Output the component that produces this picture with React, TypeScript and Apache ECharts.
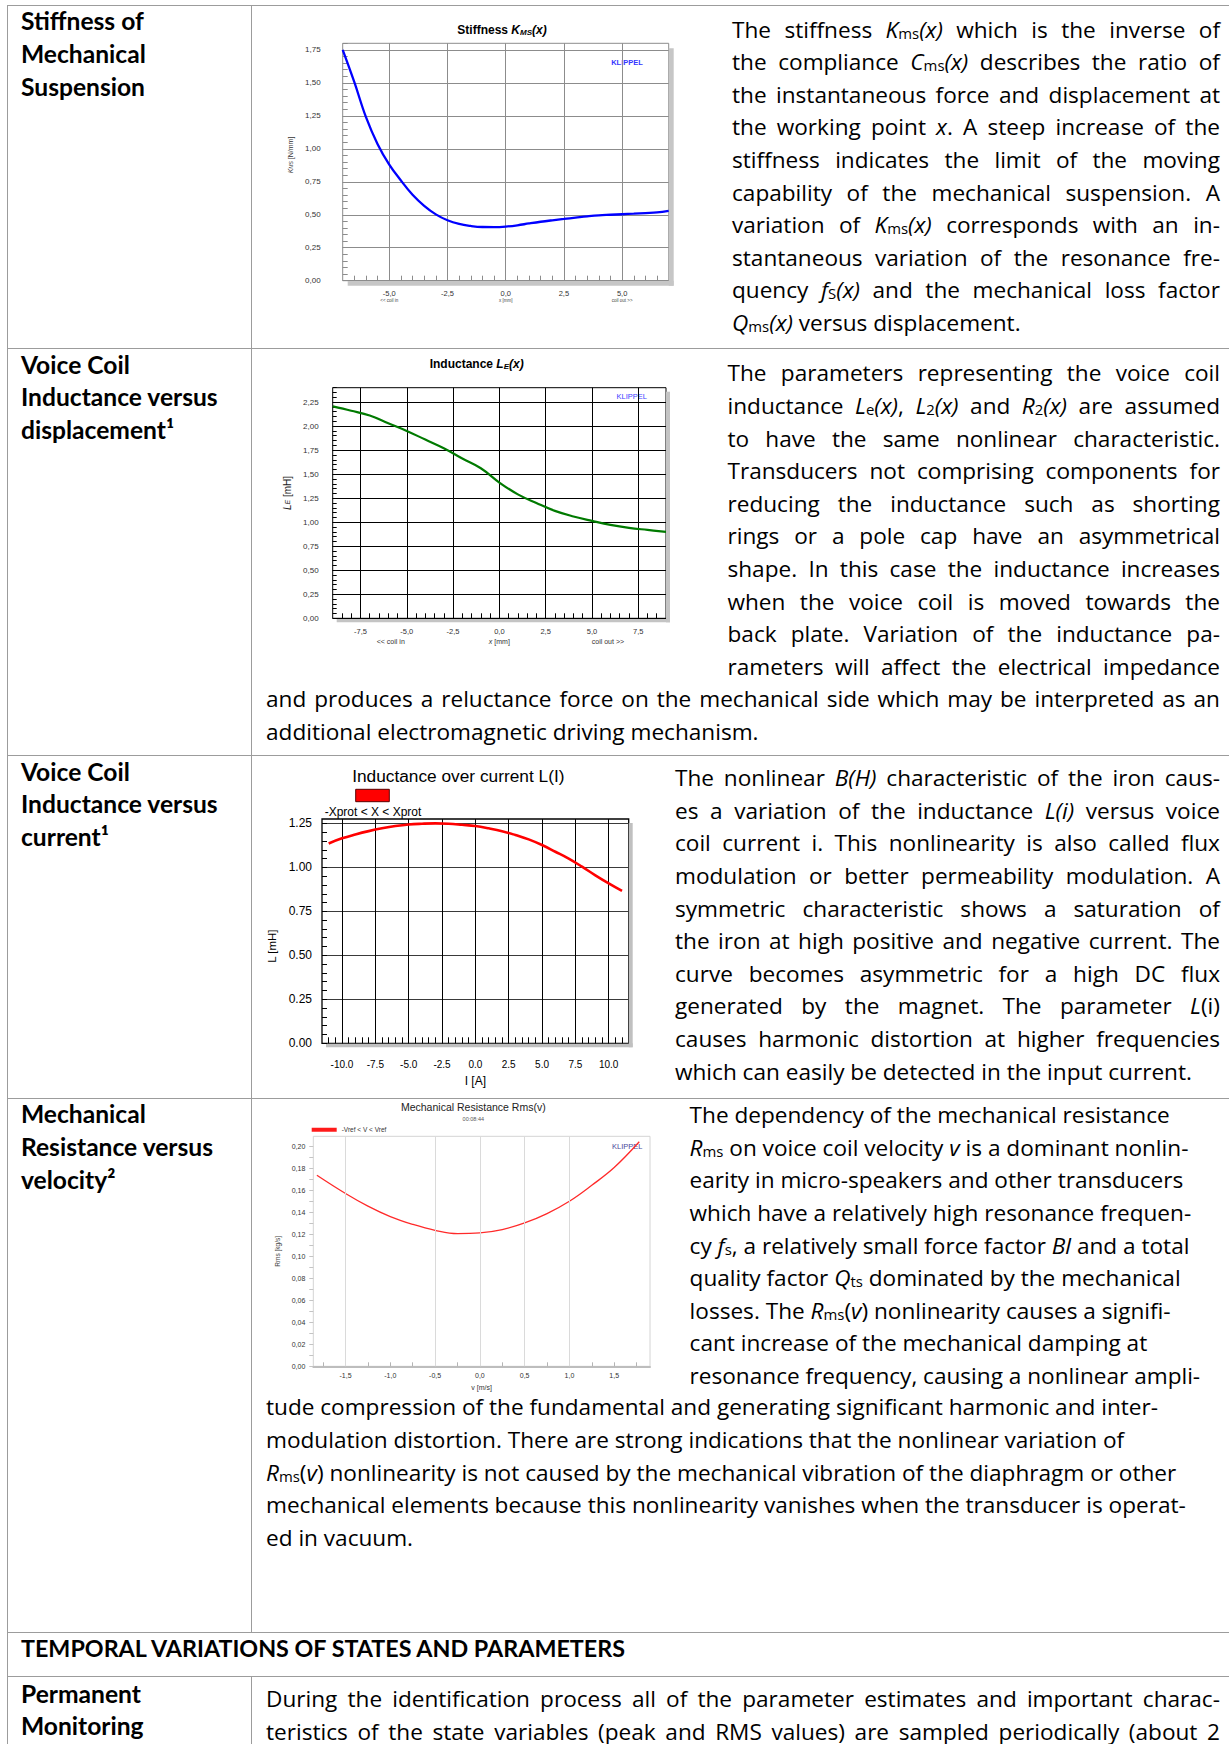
import React, { useEffect, useRef } from 'react';
import * as echarts from 'echarts';

const CF = "'Liberation Sans', Arial, Helvetica, sans-serif";
const TF = "'Open Sans', Lato, sans-serif";
const LF = "Lato, 'Open Sans', sans-serif";

// ---------- Stiffness Kms(x) ----------
const stiffnessX = [-7, -6.5, -6, -5.5, -5, -4.5, -4, -3.5, -3, -2.5, -2, -1.5, -1, -0.5, 0, 0.5, 1, 1.5, 2, 2.5, 3, 3.5, 4, 4.5, 5, 5.5, 6, 6.5, 7];
const stiffnessK = [1.75, 1.505, 1.24, 1.035, 0.88, 0.76, 0.652, 0.568, 0.503, 0.458, 0.43, 0.415, 0.407, 0.406, 0.41, 0.42, 0.434, 0.447, 0.458, 0.468, 0.478, 0.488, 0.496, 0.5, 0.504, 0.508, 0.513, 0.518, 0.53];
const stiffnessXTicks = [-5, -2.5, 0, 2.5, 5];
const stiffnessYTicks = [0, 0.25, 0.5, 0.75, 1, 1.25, 1.5, 1.75];

// ---------- Inductance Le(x) ----------
const inductanceX = [-9, -8, -7, -6, -5, -4, -3, -2, -1, 0, 1, 2, 3, 4, 5, 6, 7, 8, 9];
const inductanceLe = [2.205, 2.16, 2.11, 2.03, 1.95, 1.86, 1.77, 1.663, 1.562, 1.413, 1.29, 1.2, 1.118, 1.06, 1.014, 0.972, 0.941, 0.92, 0.9];
const inductanceXTicks = [-7.5, -5, -2.5, 0, 2.5, 5, 7.5];
const inductanceYTicks = [0, 0.25, 0.5, 0.75, 1, 1.25, 1.5, 1.75, 2, 2.25];

// ---------- Inductance over current L(I) ----------
const currentI = [-11, -10, -9, -8, -7, -6, -5, -4, -3, -2, -1, 0, 1, 2, 3, 4, 5, 6, 7, 8, 9, 10, 11];
const currentL = [1.136, 1.165, 1.187, 1.206, 1.222, 1.235, 1.244, 1.248, 1.25, 1.248, 1.242, 1.235, 1.222, 1.206, 1.184, 1.159, 1.127, 1.089, 1.05, 1.004, 0.955, 0.909, 0.866];
const currentXTicks = [-10, -7.5, -5, -2.5, 0, 2.5, 5, 7.5, 10];
const currentYTicks = [0, 0.25, 0.5, 0.75, 1, 1.25];

// ---------- Mechanical resistance Rms(v) ----------
const velocityV = [-1.82, -1.5, -1.25, -1, -0.75, -0.5, -0.25, 0, 0.25, 0.5, 0.75, 1, 1.25, 1.5, 1.78];
const resistanceRms = [0.1736, 0.157, 0.1455, 0.136, 0.129, 0.1236, 0.1206, 0.1212, 0.1242, 0.1303, 0.1388, 0.15, 0.1645, 0.1806, 0.204];
const velocityXTicks = [-1.5, -1, -0.5, 0, 0.5, 1, 1.5];
const velocityGridLines = [-1.5, -0.5, 0, 0.5, 1];
const resistanceYTicks = [0, 0.02, 0.04, 0.06, 0.08, 0.1, 0.12, 0.14, 0.16, 0.18, 0.2];

const coilSubLabels: Record<string, string> = { '-5': '<< coil in', '0': 'x [mm]', '5': 'coil out >>' };

const comma = (v: number, d: number) => v.toFixed(d).replace('.', ',');
const zip = (a: number[], b: number[]) => a.map((x, i) => [x, b[i]]);
const steps = (from: number, to: number, step: number) => {
  const out: number[] = [];
  const n = Math.round((to - from) / step);
  for (let i = 0; i <= n; i++) out.push(+(from + i * step).toFixed(6));
  return out;
};

const minorAxis = (dim: 'x' | 'y', min: number, max: number, values: number[], length: number, color: string, inside = true) => ({
  type: 'value',
  min,
  max,
  position: dim === 'x' ? 'bottom' : 'left',
  axisLine: { show: false, onZero: false },
  axisTick: { show: true, inside, length, customValues: values, lineStyle: { color, width: 1 } },
  axisLabel: { show: false },
  splitLine: { show: false },
});

const shadowRects = (g: any, d: number, color: string) => [
  { type: 'rect', silent: true, shape: { x: g.left + g.width, y: g.top + d, width: d, height: g.height }, style: { fill: color } },
  { type: 'rect', silent: true, shape: { x: g.left + d, y: g.top + g.height, width: g.width, height: d }, style: { fill: color } },
];

// ----- chart 1: stiffness -----
const G1 = { left: 72.7, top: 33.3, width: 326, height: 237.4 };
const option1 = {
  animation: false,
  textStyle: { fontFamily: CF },
  grid: { ...G1, show: true, backgroundColor: '#fff', borderColor: '#8c8c8c', borderWidth: 1, outerBoundsMode: 'none' },
  graphic: [
    ...shadowRects(G1, 5, '#c6c6c6'),
    {
      type: 'text', x: 232, y: 20,
      style: {
        text: '{a|Stiffness }{b|K}{c|MS}{b|(x)}', align: 'center', verticalAlign: 'middle', fill: '#000',
        rich: {
          a: { fontSize: 12, fontWeight: 'bold', fontFamily: CF },
          b: { fontSize: 12, fontWeight: 'bold', fontStyle: 'italic', fontFamily: CF },
          c: { fontSize: 8, fontWeight: 'bold', fontStyle: 'italic', fontFamily: CF, padding: [5, 0, 0, 0] },
        },
      },
    },
    { type: 'text', x: 357, y: 52, style: { text: 'KLIPPEL', align: 'center', verticalAlign: 'middle', fill: '#3535ff', font: `bold 7.5px ${CF}` } },
  ],
  xAxis: [
    {
      type: 'value', min: -7, max: 7,
      axisLine: { show: false, onZero: false },
      axisTick: { show: false, customValues: stiffnessXTicks },
      splitLine: { show: true, lineStyle: { color: '#8c8c8c', width: 1 } },
      axisLabel: {
        customValues: stiffnessXTicks, margin: 8,
        formatter: (v: number) => `{n|${comma(v, 1)}}\n{s|${coilSubLabels[String(v)] ?? ' '}}`,
        rich: {
          n: { fontSize: 7.5, color: '#333', fontFamily: CF, lineHeight: 9 },
          s: { fontSize: 4.5, color: '#444', fontFamily: CF, lineHeight: 6 },
        },
      },
    },
    minorAxis('x', -7, 7, steps(-6.5, 6.5, 0.5), 5, '#8c8c8c'),
  ],
  yAxis: [
    {
      type: 'value', min: 0, max: 1.8,
      axisLine: { show: false, onZero: false },
      axisTick: { show: false, customValues: stiffnessYTicks },
      splitLine: { show: true, lineStyle: { color: '#8c8c8c', width: 1 } },
      axisLabel: { customValues: stiffnessYTicks, margin: 22, fontSize: 8, color: '#333', formatter: (v: number) => comma(v, 2) },
      name: '{i|K}{s|MS}{n| [N/mm]}', nameLocation: 'middle', nameGap: 48, nameRotate: 90,
      nameTextStyle: {
        padding: [0, 0, 0, 14],
        rich: {
          i: { fontSize: 7, fontStyle: 'italic', color: '#333', fontFamily: CF },
          s: { fontSize: 5, fontStyle: 'italic', color: '#333', fontFamily: CF },
          n: { fontSize: 7, color: '#333', fontFamily: CF },
        },
      },
    },
    minorAxis('y', 0, 1.8, steps(0, 1.8, 0.05), 5, '#8c8c8c'),
  ],
  series: [
    { type: 'line', xAxisIndex: 0, yAxisIndex: 0, data: zip(stiffnessX, stiffnessK), smooth: 0.4, showSymbol: false, lineStyle: { color: '#0000ff', width: 2.3 } },
  ],
};

// ----- chart 2: inductance vs displacement -----
const G2 = { left: 62.7, top: 37.7, width: 333.3, height: 230.6 };
const coilRich = {
  n: { fontSize: 7.5, color: '#333', fontFamily: CF, lineHeight: 9 },
  l: { fontSize: 7, color: '#333', fontFamily: CF, lineHeight: 10, padding: [0, 32, 0, 0] },
  r: { fontSize: 7, color: '#333', fontFamily: CF, lineHeight: 10, padding: [0, 0, 0, 32] },
  xi: { fontSize: 7, fontStyle: 'italic', color: '#333', fontFamily: CF, lineHeight: 10 },
  s: { fontSize: 7, color: '#333', fontFamily: CF, lineHeight: 10 },
};
const coilLabel = (v: number) => {
  const n = `{n|${comma(v, 1)}}`;
  if (v === -5) return `${n}\n{l|${coilSubLabels['-5']}}`;
  if (v === 5) return `${n}\n{r|${coilSubLabels['5']}}`;
  if (v === 0) return `${n}\n{xi|x}{s| [mm]}`;
  return `${n}\n{s| }`;
};
const option2 = {
  animation: false,
  textStyle: { fontFamily: CF },
  grid: { ...G2, show: true, backgroundColor: '#fff', borderColor: '#000', borderWidth: 1, outerBoundsMode: 'none' },
  graphic: [
    ...shadowRects(G2, 4, '#c4c4c4'),
    {
      type: 'text', x: 206.7, y: 14,
      style: {
        text: '{a|Inductance }{b|L}{c|E}{b|(x)}', align: 'center', verticalAlign: 'middle', fill: '#000',
        rich: {
          a: { fontSize: 12, fontWeight: 'bold', fontFamily: CF },
          b: { fontSize: 12, fontWeight: 'bold', fontStyle: 'italic', fontFamily: CF },
          c: { fontSize: 8, fontWeight: 'bold', fontStyle: 'italic', fontFamily: CF, padding: [5, 0, 0, 0] },
        },
      },
    },
    { type: 'text', x: 361.7, y: 46, style: { text: 'KLIPPEL', align: 'center', verticalAlign: 'middle', fill: '#4040ff', font: `7.5px ${CF}` } },
  ],
  xAxis: [
    {
      type: 'value', min: -9, max: 9,
      axisLine: { show: false, onZero: false },
      axisTick: { show: false, customValues: inductanceXTicks },
      splitLine: { show: true, lineStyle: { color: '#000', width: 1 } },
      axisLabel: { customValues: inductanceXTicks, margin: 9, formatter: coilLabel, rich: coilRich },
    },
    minorAxis('x', -9, 9, steps(-8.5, 8.5, 0.5), 5, '#000'),
  ],
  yAxis: [
    {
      type: 'value', min: 0, max: 2.4,
      axisLine: { show: false, onZero: false },
      axisTick: { show: false, customValues: inductanceYTicks },
      splitLine: { show: true, lineStyle: { color: '#000', width: 1 } },
      axisLabel: { customValues: inductanceYTicks, margin: 14, fontSize: 8, color: '#333', formatter: (v: number) => comma(v, 2) },
      name: '{i|L}{s|E}{n| [mH]}', nameLocation: 'middle', nameGap: 40, nameRotate: 90,
      nameTextStyle: {
        padding: [0, 0, 0, 20],
        rich: {
          i: { fontSize: 10, fontStyle: 'italic', color: '#222', fontFamily: CF },
          s: { fontSize: 7, fontStyle: 'italic', color: '#222', fontFamily: CF },
          n: { fontSize: 10, color: '#222', fontFamily: CF },
        },
      },
    },
    minorAxis('y', 0, 2.4, steps(0, 2.4, 0.05), 4, '#000'),
  ],
  series: [
    { type: 'line', xAxisIndex: 0, yAxisIndex: 0, data: zip(inductanceX, inductanceLe), smooth: 0.4, showSymbol: false, lineStyle: { color: '#007a00', width: 2.2 } },
  ],
};

// ----- chart 3: inductance over current -----
const G3 = { left: 62, top: 64, width: 306.7, height: 224.3 };
const option3 = {
  animation: false,
  textStyle: { fontFamily: CF },
  grid: { ...G3, show: true, backgroundColor: '#fff', borderColor: '#000', borderWidth: 1.3, outerBoundsMode: 'none' },
  graphic: [
    ...shadowRects(G3, 4, '#c0c0c0'),
    { type: 'text', x: 198.3, y: 20.7, style: { text: 'Inductance over current L(I)', align: 'center', verticalAlign: 'middle', fill: '#000', font: `17.3px ${CF}` } },
    { type: 'rect', shape: { x: 95.7, y: 34.3, width: 33.6, height: 12.4 }, style: { fill: '#ff0000', stroke: '#5a0000', lineWidth: 1 } },
    { type: 'text', x: 113, y: 56.7, style: { text: '-Xprot < X < Xprot', align: 'center', verticalAlign: 'middle', fill: '#000', font: `12px ${CF}` } },
  ],
  xAxis: [
    {
      type: 'value', min: -11.5, max: 11.5,
      axisLine: { show: false, onZero: false },
      axisTick: { show: false, customValues: currentXTicks },
      splitLine: { show: true, lineStyle: { color: '#000', width: 1 } },
      axisLabel: { customValues: currentXTicks, margin: 16, fontSize: 10, color: '#000', formatter: (v: number) => v.toFixed(1) },
      name: 'I [A]', nameLocation: 'middle', nameGap: 32, nameTextStyle: { fontSize: 12, color: '#000' },
    },
    minorAxis('x', -11.5, 11.5, steps(-11, 11, 0.5), 6, '#000'),
  ],
  yAxis: [
    {
      type: 'value', min: 0, max: 1.275,
      axisLine: { show: false, onZero: false },
      axisTick: { show: false, customValues: currentYTicks },
      splitLine: { show: true, lineStyle: { color: '#3a3a3a', width: 1 } },
      axisLabel: { customValues: currentYTicks, margin: 10, fontSize: 12, color: '#000', formatter: (v: number) => v.toFixed(2) },
      name: 'L [mH]', nameLocation: 'middle', nameGap: 41, nameRotate: 90,
      nameTextStyle: { fontSize: 11.5, color: '#000', padding: [0, 30, 0, 0] },
    },
    minorAxis('y', 0, 1.275, steps(0, 1.25, 0.05), 5, '#000'),
  ],
  series: [
    { type: 'line', xAxisIndex: 0, yAxisIndex: 0, data: zip(currentI, currentL), smooth: 0.4, showSymbol: false, lineStyle: { color: '#ff0000', width: 2.6 } },
  ],
};

// ----- chart 4: mechanical resistance vs velocity -----
const G4 = { left: 43.3, top: 43.3, width: 336.7, height: 230 };
const option4 = {
  animation: false,
  textStyle: { fontFamily: CF },
  grid: { ...G4, show: true, backgroundColor: '#fff', borderColor: '#d4d4d4', borderWidth: 1, outerBoundsMode: 'none' },
  graphic: [
    { type: 'text', x: 203.3, y: 14, style: { text: 'Mechanical Resistance Rms(v)', align: 'center', verticalAlign: 'middle', fill: '#222', font: `10.5px ${CF}` } },
    { type: 'text', x: 203.3, y: 26, style: { text: '00:08:44', align: 'center', verticalAlign: 'middle', fill: '#555', font: `5.5px ${CF}` } },
    { type: 'rect', shape: { x: 41.7, y: 34.7, width: 25, height: 4 }, style: { fill: '#ff1a1a' } },
    { type: 'text', x: 71.7, y: 36.7, style: { text: '-Vref < V < Vref', align: 'left', verticalAlign: 'middle', fill: '#333', font: `6.5px ${CF}` } },
    { type: 'text', x: 357.3, y: 53.3, style: { text: 'KLIPPEL', align: 'center', verticalAlign: 'middle', fill: '#4a4a9a', font: `7.5px ${CF}` } },
  ],
  xAxis: [
    {
      type: 'value', min: -1.86, max: 1.9,
      axisLine: { show: true, onZero: false, lineStyle: { color: '#bdbdbd', width: 2 } },
      axisTick: { show: false, customValues: velocityXTicks },
      splitLine: { show: false },
      axisLabel: { customValues: velocityXTicks, margin: 6, fontSize: 7, color: '#333', formatter: (v: number) => comma(v, 1) },
      name: 'v [m/s]', nameLocation: 'middle', nameGap: 15, nameTextStyle: { fontSize: 7, color: '#333' },
    },
    minorAxis('x', -1.86, 1.9, steps(-1.75, 1.75, 0.25), 4, '#b4b4b4'),
  ],
  yAxis: [
    {
      type: 'value', min: 0, max: 0.209,
      axisLine: { show: false, onZero: false },
      axisTick: { show: false, customValues: resistanceYTicks },
      splitLine: { show: false },
      axisLabel: { customValues: resistanceYTicks, margin: 8, fontSize: 7, color: '#333', formatter: (v: number) => comma(v, 2) },
      name: 'Rms [kg/s]', nameLocation: 'middle', nameGap: 26, nameRotate: 90,
      nameTextStyle: { fontSize: 6.5, color: '#444' },
    },
    minorAxis('y', 0, 0.209, steps(0, 0.2, 0.01), 4, '#c4c4c4', false),
  ],
  series: [
    {
      type: 'line', xAxisIndex: 0, yAxisIndex: 0, data: zip(velocityV, resistanceRms), smooth: 0.4, showSymbol: false,
      lineStyle: { color: '#ff2a2a', width: 1.3 },
      markLine: {
        silent: true, symbol: ['none', 'none'], label: { show: false },
        lineStyle: { color: '#dadada', type: 'solid', width: 1 },
        data: velocityGridLines.map((v) => ({ xAxis: v })),
      },
    },
  ],
};

function EChart({ box, option }: { box: { left: number; top: number; width: number; height: number }; option: any }) {
  const ref = useRef<HTMLDivElement>(null);
  useEffect(() => {
    if (!ref.current) return;
    const chart = echarts.init(ref.current, undefined, { renderer: 'svg' });
    chart.setOption(option);
    return () => chart.dispose();
  }, [option]);
  return <div ref={ref} style={{ position: 'absolute', left: box.left, top: box.top, width: box.width, height: box.height }} />;
}

// ---------- text helpers ----------
// ~text~ = italic, ^text^ = subscript
function Marked({ s }: { s: string }) {
  const parts = s.split(/(~[^~]*~|\^[^^]*\^)/).filter((p) => p !== '');
  return (
    <>
      {parts.map((p, i) => {
        if (p[0] === '~') return <i key={i}>{p.slice(1, -1)}</i>;
        if (p[0] === '^') return <span key={i} style={{ fontSize: '0.66em', verticalAlign: '-0.1em' }}>{p.slice(1, -1)}</span>;
        return <React.Fragment key={i}>{p}</React.Fragment>;
      })}
    </>
  );
}

const LH = 32.6;
const FS = 22.6;
const BASE_OFF = 25.2;

type Block = { left: number; right: number; baseline: number; lines: string[]; justify: 'all' | 'allButLast' | 'none' };

function TextBlock({ b }: { b: Block }) {
  return (
    <>
      {b.lines.map((line, i) => {
        const just = b.justify === 'all' || (b.justify === 'allButLast' && i < b.lines.length - 1);
        const style: React.CSSProperties = {
          position: 'absolute', left: b.left, top: b.baseline + i * LH - BASE_OFF, height: LH,
          lineHeight: `${LH}px`, fontSize: FS, whiteSpace: 'nowrap',
        };
        if (just) {
          return (
            <div key={i} style={{ ...style, width: b.right - b.left, display: 'flex', justifyContent: 'space-between', alignItems: 'baseline' }}>
              {line.split(' ').map((w, j) => <span key={j}><Marked s={w} /></span>)}
            </div>
          );
        }
        return <div key={i} style={style}><Marked s={line} /></div>;
      })}
    </>
  );
}

const LABEL_LH = 32.8;
function Label({ lines, baseline, size = 24.6 }: { lines: string[]; baseline: number; size?: number }) {
  const off = (LABEL_LH - 1.2 * size) / 2 + 0.987 * size;
  return (
    <>
      {lines.map((l, i) => (
        <div key={i} style={{ position: 'absolute', left: 21, top: baseline + i * LABEL_LH - off, height: LABEL_LH, lineHeight: `${LABEL_LH}px`, fontFamily: LF, fontSize: size, fontWeight: 700, whiteSpace: 'nowrap' }}>{l}</div>
      ))}
    </>
  );
}

const blocks: Block[] = [
  {
    left: 732, right: 1220, baseline: 38.8, justify: 'allButLast',
    lines: [
      'The stiffness ~K~^ms^~(x)~ which is the inverse of',
      'the compliance ~C~^ms^~(x)~ describes the ratio of',
      'the instantaneous force and displacement at',
      'the working point ~x~. A steep increase of the',
      'stiffness indicates the limit of the moving',
      'capability of the mechanical suspension. A',
      'variation of ~K~^ms^~(x)~ corresponds with an in-',
      'stantaneous variation of the resonance fre-',
      'quency ~f~^S^~(x)~ and the mechanical loss factor',
      '~Q~^ms^~(x)~ versus displacement.',
    ],
  },
  {
    left: 727.5, right: 1220, baseline: 382.5, justify: 'all',
    lines: [
      'The parameters representing the voice coil',
      'inductance ~L~^e^~(x)~, ~L~^2^~(x)~ and ~R~^2^~(x)~ are assumed',
      'to have the same nonlinear characteristic.',
      'Transducers not comprising components for',
      'reducing the inductance such as shorting',
      'rings or a pole cap have an asymmetrical',
      'shape. In this case the inductance increases',
      'when the voice coil is moved towards the',
      'back plate. Variation of the inductance pa-',
      'rameters will affect the electrical impedance',
    ],
  },
  {
    left: 266, right: 1220, baseline: 708.5, justify: 'allButLast',
    lines: [
      'and produces a reluctance force on the mechanical side which may be interpreted as an',
      'additional electromagnetic driving mechanism.',
    ],
  },
  {
    left: 675, right: 1220, baseline: 787.4, justify: 'allButLast',
    lines: [
      'The nonlinear ~B(H)~ characteristic of the iron caus-',
      'es a variation of the inductance ~L(i)~ versus voice',
      'coil current i. This nonlinearity is also called flux',
      'modulation or better permeability modulation. A',
      'symmetric characteristic shows a saturation of',
      'the iron at high positive and negative current. The',
      'curve becomes asymmetric for a high DC flux',
      'generated by the magnet. The parameter ~L~(i)',
      'causes harmonic distortion at higher frequencies',
      'which can easily be detected in the input current.',
    ],
  },
  {
    left: 689.6, right: 1220, baseline: 1124.4, justify: 'none',
    lines: [
      'The dependency of the mechanical resistance',
      '~R~^ms^ on voice coil velocity ~v~ is a dominant nonlin-',
      'earity in micro-speakers and other transducers',
      'which have a relatively high resonance frequen-',
      'cy ~f~^s^, a relatively small force factor ~Bl~ and a total',
      'quality factor ~Q~^ts^ dominated by the mechanical',
      'losses. The ~R~^ms^(~v~) nonlinearity causes a signifi-',
      'cant increase of the mechanical damping at',
      'resonance frequency, causing a nonlinear ampli-',
    ],
  },
  {
    left: 266, right: 1220, baseline: 1416.5, justify: 'none',
    lines: [
      'tude compression of the fundamental and generating significant harmonic and inter-',
      'modulation distortion. There are strong indications that the nonlinear variation of',
      '~R~^ms^(~v~) nonlinearity is not caused by the mechanical vibration of the diaphragm or other',
      'mechanical elements because this nonlinearity vanishes when the transducer is operat-',
      'ed in vacuum.',
    ],
  },
  {
    left: 266, right: 1220, baseline: 1708.5, justify: 'all',
    lines: [
      'During the identification process all of the parameter estimates and important charac-',
      'teristics of the state variables (peak and RMS values) are sampled periodically (about 2',
    ],
  },
];

const BORDER = '#9c9c9c';
const hLines = [5, 348, 755, 1098, 1632, 1676];

export default function App() {
  return (
    <div style={{ position: 'absolute', left: 0, top: 0, width: 1229, height: 1744, overflow: 'hidden', background: '#fff', color: '#000', fontFamily: TF }}>
      {hLines.map((y) => (
        <div key={y} style={{ position: 'absolute', left: 7, top: y, width: 1222, height: 1, background: BORDER }} />
      ))}
      <div style={{ position: 'absolute', left: 7, top: 5, width: 1, height: 1739, background: BORDER }} />
      <div style={{ position: 'absolute', left: 251, top: 5, width: 1, height: 1627, background: BORDER }} />
      <div style={{ position: 'absolute', left: 251, top: 1676, width: 1, height: 68, background: BORDER }} />

      <Label baseline={31} lines={['Stiffness of', 'Mechanical', 'Suspension']} />
      <Label baseline={374.5} lines={['Voice Coil', 'Inductance versus', 'displacement¹']} />
      <Label baseline={781.5} lines={['Voice Coil', 'Inductance versus', 'current¹']} />
      <Label baseline={1124} lines={['Mechanical', 'Resistance versus', 'velocity²']} />
      <Label baseline={1657.5} size={23.3} lines={['TEMPORAL VARIATIONS OF STATES AND PARAMETERS']} />
      <Label baseline={1703.5} lines={['Permanent', 'Monitoring']} />

      {blocks.map((b, i) => <TextBlock key={i} b={b} />)}

      <EChart box={{ left: 270, top: 10, width: 420, height: 300 }} option={option1} />
      <EChart box={{ left: 270, top: 350, width: 420, height: 305 }} option={option2} />
      <EChart box={{ left: 260, top: 755, width: 400, height: 340 }} option={option3} />
      <EChart box={{ left: 270, top: 1093, width: 390, height: 300 }} option={option4} />
    </div>
  );
}
